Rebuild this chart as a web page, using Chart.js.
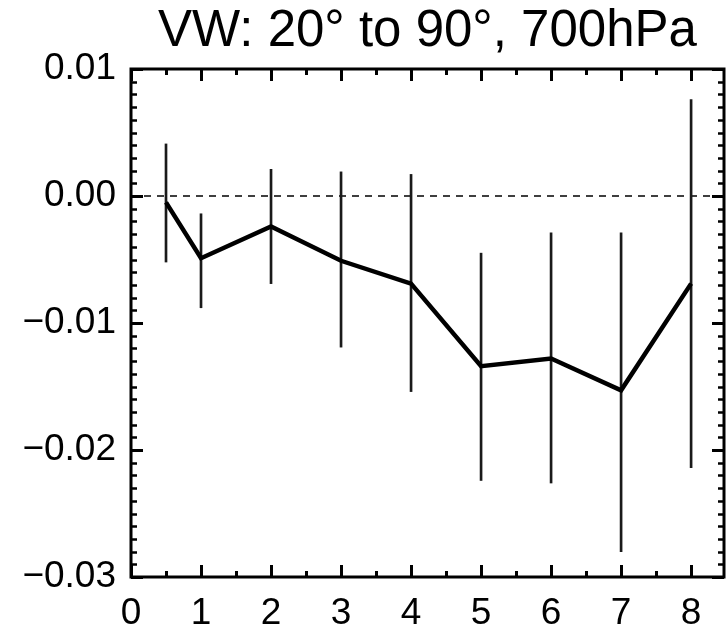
<!DOCTYPE html>
<html>
<head>
<meta charset="utf-8">
<script src="https://cdn.jsdelivr.net/npm/chart.js@4"></script>
<style>
  html, body { margin: 0; padding: 0; background: #fff; }
  #wrap { width: 726px; height: 633px; }
</style>
</head>
<body>
<div id="wrap"><canvas id="vw" width="726" height="633"></canvas></div>
<script>
// Lag positions and mean response with its spread
const lags = [0.5, 1, 2, 3, 4, 5, 6, 7, 8];
const meanVW = [-0.0005, -0.0049, -0.0024, -0.0051, -0.0069, -0.0134, -0.0128, -0.0153, -0.0069];
const lowVW = [-0.0052, -0.0088, -0.0069, -0.0119, -0.0154, -0.0224, -0.0226, -0.0280, -0.0214];
const highVW = [0.0041, -0.0014, 0.0021, 0.0019, 0.0017, -0.0045, -0.0029, -0.0029, 0.0076];

const xTickValues = [0, 1, 2, 3, 4, 5, 6, 7, 8];
const xTickLabels = ['0', '1', '2', '3', '4', '5', '6', '7', '8'];
const yTickValues = [0.01, 0, -0.01, -0.02, -0.03];
const yTickLabels = ['0.01', '0.00', '\u22120.01', '\u22120.02', '\u22120.03'];

const titleText = 'VW: 20\u00b0 to 90\u00b0, 700hPa';
const FONT = '"Liberation Sans", Arial, Helvetica, sans-serif';

// box around the plot with inward ticks on all four sides
const axisFrame = {
    id: 'axisFrame',
    afterDraw(chart) {
        const { ctx, chartArea: a, scales: { x, y } } = chart;
        const seg = (x0, y0, x1, y1) => {
            ctx.beginPath();
            ctx.moveTo(x0, y0);
            ctx.lineTo(x1, y1);
            ctx.stroke();
        };
        ctx.save();
        ctx.strokeStyle = '#000';
        ctx.lineCap = 'butt';

        ctx.lineWidth = 3;
        for (let i = 0; i * 0.5 <= x.max; i++) {
            const px = Math.round(x.getPixelForValue(i * 0.5)) + 0.5;
            const len = i % 2 === 0 ? 12 : 6;
            seg(px, a.bottom, px, a.bottom - len);
            seg(px, a.top, px, a.top + len);
        }

        for (let k = -30; k <= 10; k++) {
            const py = Math.round(y.getPixelForValue(k / 1000)) + 0.5;
            const major = k % 10 === 0;
            const len = major ? 12 : 6;
            ctx.lineWidth = major ? 3 : 2.5;
            seg(a.left, py, a.left + len, py);
            seg(a.right, py, a.right - len, py);
        }

        ctx.lineWidth = 3;
        ctx.strokeRect(a.left, a.top, a.right - a.left, a.bottom - a.top);
        ctx.restore();
    }
};

new Chart(document.getElementById('vw'), {
    type: 'line',
    data: {
        datasets: [
            {
                label: 'mean',
                data: lags.map((v, i) => ({ x: v, y: meanVW[i] })),
                borderColor: '#000',
                borderWidth: 4.5,
                pointRadius: 0,
                tension: 0,
                fill: false
            },
            {
                type: 'bar',
                label: 'spread',
                data: lags.map((v, i) => ({ x: v, y: [lowVW[i], highVW[i]] })),
                backgroundColor: '#1a1a1a',
                borderWidth: 0,
                barThickness: 2,
                grouped: false
            },
            {
                label: 'zero',
                data: [{ x: 0, y: 0 }, { x: 8.47, y: 0 }],
                borderColor: '#000',
                borderWidth: 1.5,
                borderDash: [7, 6],
                pointRadius: 0,
                fill: false
            }
        ]
    },
    options: {
        responsive: false,
        animation: false,
        devicePixelRatio: 1,
        layout: { padding: { left: 0, right: 2, top: 0, bottom: 0 } },
        plugins: {
            legend: { display: false },
            tooltip: { enabled: false },
            title: {
                display: true,
                text: titleText,
                fullSize: false,
                color: '#000',
                font: { family: FONT, size: 51, weight: 'normal', lineHeight: 1 },
                padding: { top: 6, bottom: 12 }
            }
        },
        scales: {
            x: {
                type: 'linear',
                min: 0,
                max: 8.47,
                offset: false,
                grid: { display: false, drawTicks: false },
                border: { display: false },
                afterBuildTicks: s => { s.ticks = xTickValues.map(v => ({ value: v })); },
                afterFit: s => { s.height = 56; },
                ticks: {
                    color: '#000',
                    padding: 15,
                    maxRotation: 0,
                    autoSkip: false,
                    font: { family: FONT, size: 37 },
                    callback: v => xTickLabels[xTickValues.indexOf(v)]
                }
            },
            y: {
                type: 'linear',
                min: -0.03,
                max: 0.01,
                grid: { display: false, drawTicks: false },
                border: { display: false },
                afterBuildTicks: s => { s.ticks = yTickValues.map(v => ({ value: v })); },
                afterFit: s => { s.width = 131; },
                ticks: {
                    color: '#000',
                    padding: 15,
                    autoSkip: false,
                    font: { family: FONT, size: 37 },
                    callback: v => yTickLabels[yTickValues.indexOf(v)]
                }
            }
        }
    },
    plugins: [axisFrame]
});
</script>
</body>
</html>
